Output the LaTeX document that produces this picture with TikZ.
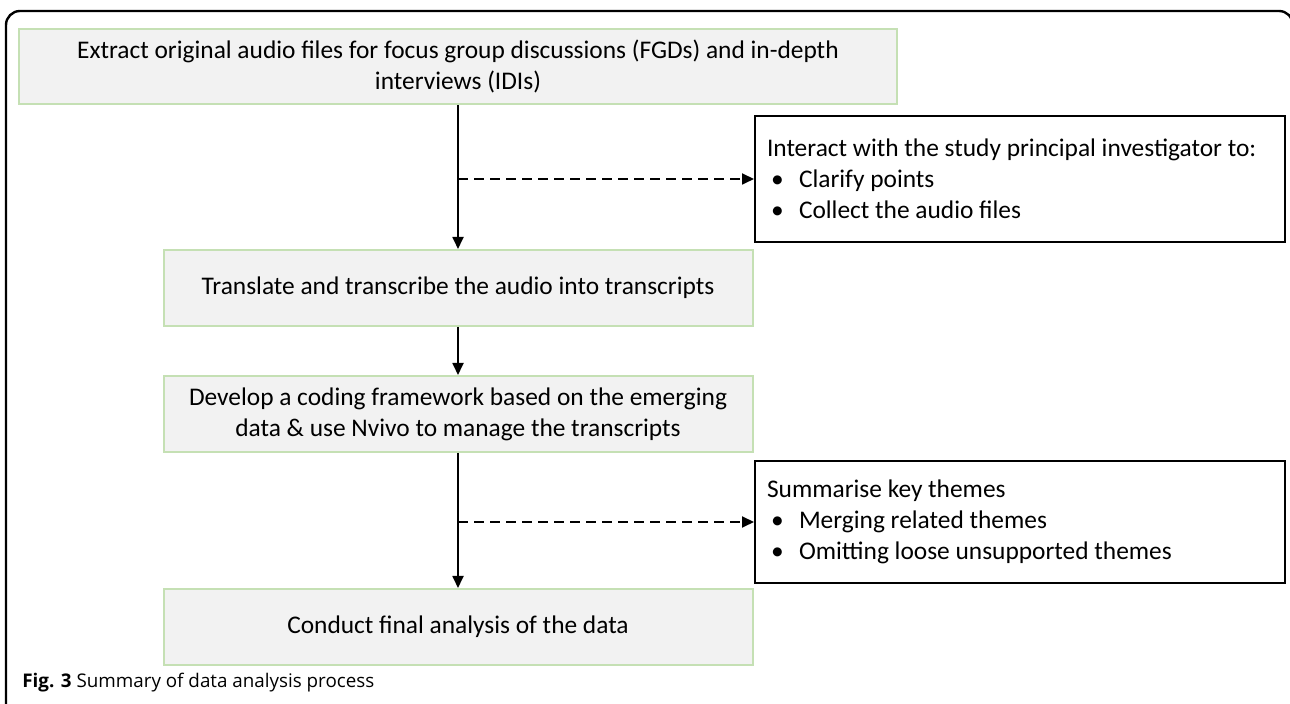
\documentclass[tikz,border=0pt]{standalone}
\usepackage{fontspec}
\setmainfont{Carlito}
\newfontfamily\captionfont{Open Sans}
\usetikzlibrary{shapes,arrows.meta,positioning,calc}
\definecolor{boxgreen}{RGB}{197,224,180}
\definecolor{boxgray}{RGB}{242,242,242}
\newcommand{\bul}{\makebox[16pt][l]{\hspace{2pt}\textbullet}}

\begin{document}
\begin{tikzpicture}[x=0.5pt,y=-0.5pt,
		stepbox/.style={draw=boxgreen, fill=boxgray, line width=1pt, minimum width=294.5pt, minimum height=38pt, align=center, inner sep=0pt},
		notebox/.style={draw=black, line width=1pt, text width=253pt, inner xsep=6pt, inner ysep=0pt, align=flush left},
		flow/.style={line width=0.9pt, -{Triangle[length=6pt,width=5.5pt]}},
		side/.style={flow, dash pattern=on 5pt off 3pt},
		font=\fontsize{12.7}{15.5}\selectfont]
				\useasboundingbox (0,0) rectangle (1290,704);
				
				% Outer frame
				\draw[line width=1.2pt, rounded corners=7pt] (6,720) -- (6,11) -- (1293,11) -- (1293,720);
				
				% Main steps
				\node[stepbox, minimum width=439pt, minimum height=37.5pt] (extract) at (458,66.5) {Extract original audio files for focus group discussions (FGDs) and in-depth\\ interviews (IDIs)};
				\node[stepbox] (translate) at (458,288) {Translate and transcribe the audio into transcripts};
				\node[stepbox] (develop) at (458,414) {Develop a coding framework based on the emerging\\ data \& use Nvivo to manage the transcripts};
				\node[stepbox] (conduct) at (458,627) {Conduct final analysis of the data};
				
				% Side notes
				\node[notebox, minimum height=63pt] (interact) at (1020,179) {Interact with the study principal investigator to:\\ \bul Clarify points\\ \bul Collect the audio files};
				\node[notebox, minimum height=61pt] (summarise) at (1020,522) {Summarise key themes\\ \bul Merging related themes\\ \bul Omitting loose unsupported themes};
				
				% Flow arrows
				\draw[flow] (extract.south) -- (translate.north);
				\draw[flow] (translate.south) -- (develop.north);
				\draw[flow] (develop.south) -- (conduct.north);
				
				% Dashed side arrows
				\draw[side] (extract.south |- interact.west) -- (interact.west);
				\draw[side] (develop.south |- summarise.west) -- (summarise.west);
				
				% Caption
				\node[anchor=base west, inner sep=0pt, font=\captionfont\fontsize{9.4}{11}\selectfont] (caption) at (22,688) {\textbf{Fig. 3} Summary of data analysis process};
			\end{tikzpicture}
\end{document}
